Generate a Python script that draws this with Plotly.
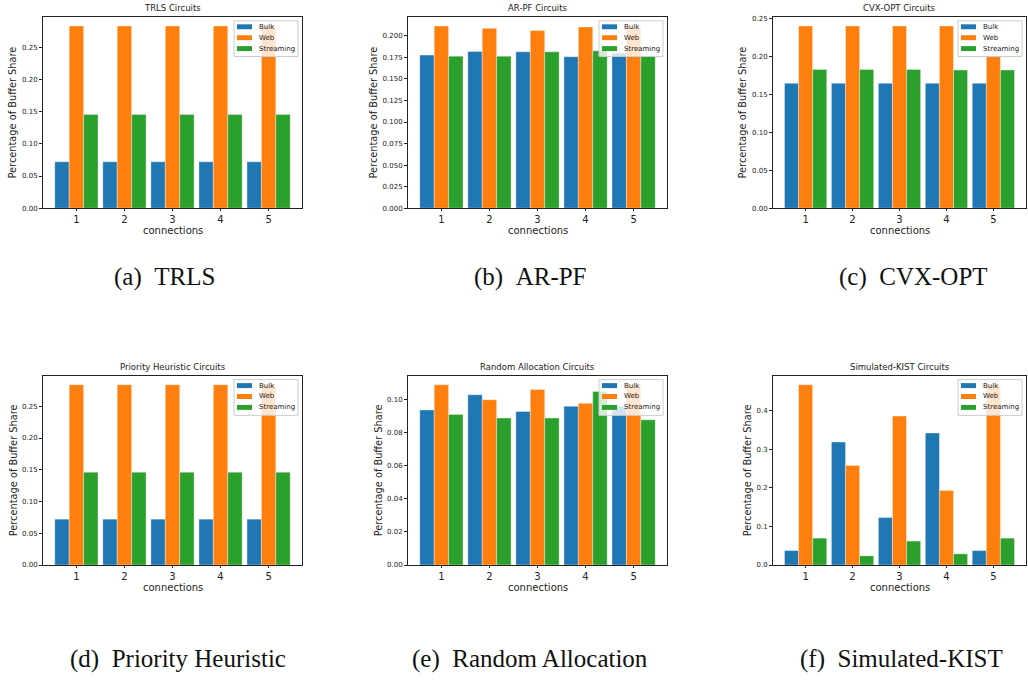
import plotly.graph_objects as go

# Connection indices on the x axis
connections = [1, 2, 3, 4, 5]

# Buffer share per traffic class, one set per scheduler
trls_bulk = [0.0722, 0.0722, 0.0722, 0.0722, 0.0722]
trls_web = [0.2835, 0.2835, 0.2835, 0.2835, 0.2835]
trls_stream = [0.1459, 0.1459, 0.1459, 0.1459, 0.1459]

arpf_bulk = [0.1777, 0.1820, 0.1815, 0.1758, 0.1800]
arpf_web = [0.2115, 0.2088, 0.2062, 0.2104, 0.2100]
arpf_stream = [0.1765, 0.1765, 0.1815, 0.1827, 0.1770]

cvx_bulk = [0.1648, 0.1648, 0.1648, 0.1648, 0.1648]
cvx_web = [0.2404, 0.2404, 0.2404, 0.2404, 0.2000]
cvx_stream = [0.1831, 0.1831, 0.1831, 0.1823, 0.1823]

prio_bulk = [0.0722, 0.0722, 0.0722, 0.0722, 0.0722]
prio_web = [0.2840, 0.2840, 0.2840, 0.2840, 0.2840]
prio_stream = [0.1462, 0.1462, 0.1462, 0.1462, 0.1462]

rand_bulk = [0.0938, 0.1030, 0.0929, 0.0960, 0.0960]
rand_web = [0.1091, 0.1000, 0.1062, 0.0978, 0.1090]
rand_stream = [0.0911, 0.0889, 0.0889, 0.1050, 0.0879]

kist_bulk = [0.0374, 0.3185, 0.1230, 0.3420, 0.0374]
kist_web = [0.4670, 0.2580, 0.3856, 0.1928, 0.4670]
kist_stream = [0.0696, 0.0238, 0.0620, 0.0289, 0.0696]

class_names = ["Bulk", "Web", "Streaming"]
class_colors = ["#1f77b4", "#ff7f0e", "#2ca02c"]

titles = ["TRLS Circuits", "AR-PF Circuits", "CVX-OPT Circuits",
          "Priority Heuristic Circuits", "Random Allocation Circuits",
          "Simulated-KIST Circuits"]
captions = ["(a)\u2002TRLS", "(b)\u2002AR-PF", "(c)\u2002CVX-OPT",
            "(d)\u2002Priority Heuristic", "(e)\u2002Random Allocation",
            "(f)\u2002Simulated-KIST"]
ytick_steps = [0.05, 0.025, 0.05, 0.05, 0.02, 0.1]
ytick_formats = [".2f", ".3f", ".2f", ".2f", ".2f", ".1f"]

series = [
    (trls_bulk, trls_web, trls_stream),
    (arpf_bulk, arpf_web, arpf_stream),
    (cvx_bulk, cvx_web, cvx_stream),
    (prio_bulk, prio_web, prio_stream),
    (rand_bulk, rand_web, rand_stream),
    (kist_bulk, kist_web, kist_stream),
]

W, H = 1028, 682
# Plot-area boxes in pixels: left, right, top, bottom
boxes = [
    (43, 302, 15, 208), (408, 667, 15, 208), (773, 1026, 15, 208),
    (43, 302, 377, 568), (408, 667, 377, 568), (773, 1026, 377, 568),
]
ylabel_x = [13, 374, 743, 13, 378, 747]
caption_pos = [(164, 277), (530, 277), (913, 277),
               (178, 663), (530, 663), (901, 663)]

FONT = "DejaVu Sans"
INK = "#222"


def px_x(v):
    return v / W


def px_y(v):
    return 1 - v / H


fig = go.Figure()
layout = dict(
    width=W, height=H,
    margin=dict(l=0, r=0, t=0, b=0),
    paper_bgcolor="white", plot_bgcolor="white",
    barmode="group", bargap=0.1, bargroupgap=0.0,
    showlegend=False,
    font=dict(family=FONT, color=INK),
)
annotations = []
shapes = []

for i, (vals, box) in enumerate(zip(series, boxes)):
    n = "" if i == 0 else str(i + 1)
    xa, ya = "x" + n, "y" + n
    for name, color, v in zip(class_names, class_colors, vals):
        fig.add_trace(go.Bar(
            x=connections, y=v, name=name, xaxis=xa, yaxis=ya,
            marker=dict(color=color, line=dict(color="rgba(255,255,255,0.45)", width=0.8)),
        ))
    l, r, t, b = box
    ymax = max(max(s) for s in vals) * 1.05
    axis_common = dict(
        showline=True, mirror=True, linecolor=INK, linewidth=1,
        ticks="outside", tickcolor=INK, showgrid=False, zeroline=False,
    )
    layout["xaxis" + n] = dict(
        domain=[px_x(l), px_x(r)], anchor=ya, range=[0.305, 5.695],
        tickvals=connections, ticklen=2,
        tickfont=dict(size=10, family=FONT, color=INK),
        **axis_common,
    )
    layout["yaxis" + n] = dict(
        domain=[px_y(b), px_y(t)], anchor=xa, range=[0, ymax], ticklen=3,
        dtick=ytick_steps[i], tick0=0, tickformat=ytick_formats[i],
        tickfont=dict(size=7, family=FONT, color=INK),
        **axis_common,
    )

    # Legend box in the upper right corner of each panel
    lg_r = r - 4
    lg_l = lg_r - 64
    lg_t = t + 4
    lg_b = lg_t + 36
    shapes.append(dict(
        type="rect", xref="paper", yref="paper",
        x0=px_x(lg_l), x1=px_x(lg_r), y0=px_y(lg_b), y1=px_y(lg_t),
        fillcolor="rgba(255,255,255,0.8)", line=dict(color="#cccccc", width=1),
        layer="above",
    ))
    for k, (name, color) in enumerate(zip(class_names, class_colors)):
        row_y = lg_t + 6 + 11 * k
        shapes.append(dict(
            type="rect", xref="paper", yref="paper",
            x0=px_x(lg_l + 3), x1=px_x(lg_l + 18),
            y0=px_y(row_y + 2.5), y1=px_y(row_y - 2.5),
            fillcolor=color, line=dict(width=0), layer="above",
        ))
        annotations.append(dict(
            text=name, xref="paper", yref="paper", x=px_x(lg_l + 23), y=px_y(row_y),
            xanchor="left", yanchor="middle", showarrow=False,
            font=dict(size=7, family=FONT, color=INK),
        ))

    cx = (l + r) / 2
    annotations.append(dict(
        text=titles[i], xref="paper", yref="paper", x=px_x(cx), y=px_y(t - 2),
        xanchor="center", yanchor="bottom", showarrow=False,
        font=dict(size=8.5, family=FONT, color=INK),
    ))
    annotations.append(dict(
        text="connections", xref="paper", yref="paper", x=px_x(cx), y=px_y(b + 23),
        xanchor="center", yanchor="middle", showarrow=False,
        font=dict(size=10, family=FONT, color=INK),
    ))
    annotations.append(dict(
        text="Percentage of Buffer Share", xref="paper", yref="paper",
        x=px_x(ylabel_x[i]), y=px_y((t + b) / 2), textangle=-90,
        xanchor="center", yanchor="middle", showarrow=False,
        font=dict(size=9.8, family=FONT, color=INK),
    ))
    cxp, cyp = caption_pos[i]
    annotations.append(dict(
        text=captions[i], xref="paper", yref="paper", x=px_x(cxp), y=px_y(cyp),
        xanchor="center", yanchor="middle", showarrow=False,
        font=dict(size=25, family="Liberation Serif", color="#111"),
    ))

layout["annotations"] = annotations
layout["shapes"] = shapes
fig.update_layout(**layout)
fig.write_html("out.html")
